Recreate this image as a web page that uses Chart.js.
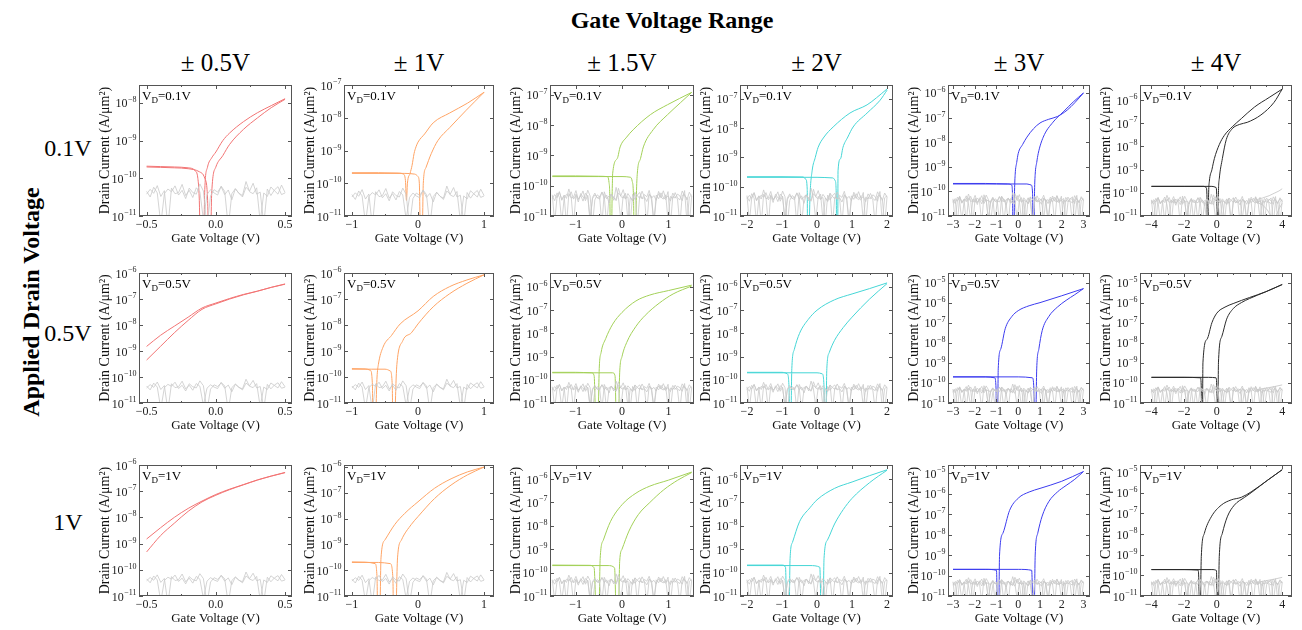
<!DOCTYPE html>
<html><head><meta charset="utf-8">
<script src="https://cdn.jsdelivr.net/npm/chart.js@4.4.1/dist/chart.umd.min.js"></script>
<style>
html,body{margin:0;padding:0;background:#fff;}
body{width:1302px;height:630px;position:relative;overflow:hidden;font-family:'Liberation Serif','Times New Roman',serif;color:#000;}
.lbl{position:absolute;white-space:nowrap;transform:translate(-50%,-50%);line-height:1;}
.panel{position:absolute;}
.vd{position:absolute;font-size:13px;line-height:1;white-space:nowrap;}
.vd sub{font-size:9px;vertical-align:-3px;}
</style></head><body>
<script>
// ---------------- DATA ----------------
const ROW_LABELS = ['0.1V', '0.5V', '1V'];
const COL_LABELS = ['\u00B1 0.5V', '\u00B1 1V', '\u00B1 1.5V', '\u00B1 2V', '\u00B1 3V', '\u00B1 4V'];
const VD_LABELS = ['0.1V', '0.5V', '1V'];
const SWEEP = [0.5, 1, 1.5, 2, 3, 4];
const X_TICKS = [[-0.5, 0, 0.5], [-1, 0, 1], [-1, 0, 1], [-2, -1, 0, 1, 2], [-3, -2, -1, 0, 1, 2, 3], [-4, -2, 0, 2, 4]];
const X_DECIMALS = [1, 0, 0, 0, 0, 0];
const Y_MIN = 1e-11;
const Y_MAX_R1 = [3e-8, 1e-7, 2.1e-7, 3e-7, 2.1e-6, 4.5e-6];
const Y_MAX_R2 = [1e-6, 1e-6, 4e-6, 4e-6, 3e-5, 3e-5];
const Y_MAX_R3 = [1e-6, 1.2e-6, 4e-6, 4e-6, 2.5e-5, 2.2e-5];
const COLORS = ['#f27474', '#ffa465', '#a3d158', '#45d6d6', '#3b3bef', '#2a2a2a'];
const NOISE_COLOR = '#c9c9c9';

// gate leakage (gray) traces, A/um^2
const NOISE_1 = [4.5e-11,3.2e-11,5.8e-11,4.1e-11,0.6e-11,3.9e-11,5.2e-11,4.4e-11,6.3e-11,3.6e-11,4.8e-11,2.9e-11,5.5e-11,4.2e-11,3.8e-11,7.1e-11,4.6e-11,0.5e-11,3.4e-11,5.0e-11,4.3e-11,6.0e-11,3.7e-11,4.9e-11,2.7e-11,5.3e-11,4.0e-11,3.5e-11,8.2e-11,4.4e-11,3.9e-11,5.6e-11,0.7e-11,4.1e-11,3.3e-11,5.9e-11,4.7e-11,3.8e-11,6.6e-11,4.2e-11,3.0e-11,5.1e-11,4.5e-11,0.6e-11,3.6e-11,5.4e-11,4.0e-11,6.8e-11,3.9e-11,4.6e-11,3.1e-11,5.7e-11,4.3e-11,3.7e-11,0.5e-11,4.8e-11,5.2e-11,3.4e-11,6.1e-11,4.4e-11];
const NOISE_2 = [3.8e-11,5.1e-11,4.0e-11,6.4e-11,3.3e-11,4.7e-11,0.5e-11,5.5e-11,3.9e-11,4.2e-11,6.9e-11,3.5e-11,4.8e-11,3.1e-11,5.6e-11,4.4e-11,0.8e-11,3.7e-11,5.0e-11,4.1e-11,3.6e-11,6.2e-11,4.5e-11,0.5e-11,3.9e-11,5.3e-11,4.0e-11,3.2e-11,5.8e-11,4.6e-11,7.4e-11,3.8e-11,4.3e-11,0.6e-11,5.2e-11,3.5e-11,4.9e-11,6.0e-11,3.7e-11,4.1e-11,0.5e-11,5.4e-11,3.9e-11,4.7e-11,3.3e-11,6.5e-11,4.2e-11,3.6e-11,5.0e-11,0.7e-11,4.4e-11,3.8e-11,5.9e-11,4.0e-11,3.4e-11,6.7e-11,4.5e-11,3.9e-11,0.5e-11,4.6e-11];
const NOISE_3 = [5.0e-11,0.6e-11,4.3e-11,6.1e-11,3.5e-11,4.9e-11,3.8e-11,7.8e-11,4.2e-11,0.5e-11,5.3e-11,3.6e-11,4.5e-11,6.7e-11,3.2e-11,4.8e-11,0.6e-11,4.1e-11,5.7e-11,3.9e-11,4.4e-11,0.5e-11,6.3e-11,3.7e-11,4.6e-11,5.2e-11,3.3e-11,8.8e-11,4.0e-11,0.7e-11,4.7e-11,3.6e-11,5.5e-11,4.2e-11,3.1e-11,6.0e-11,0.5e-11,4.5e-11,3.8e-11,5.1e-11,4.3e-11,7.0e-11,3.4e-11,0.6e-11,4.9e-11,3.7e-11,5.8e-11,4.1e-11,3.5e-11,6.4e-11,0.5e-11,4.4e-11,3.9e-11,5.3e-11,4.6e-11,3.2e-11,6.9e-11,0.6e-11,4.2e-11,5.0e-11];
const NOISE_4 = [3.4e-11,4.6e-11,0.5e-11,5.9e-11,3.8e-11,4.4e-11,6.6e-11,3.1e-11,0.7e-11,4.9e-11,3.6e-11,5.4e-11,4.0e-11,0.5e-11,7.3e-11,3.9e-11,4.5e-11,3.3e-11,5.6e-11,0.6e-11,4.2e-11,3.7e-11,6.2e-11,4.8e-11,3.5e-11,0.5e-11,5.1e-11,4.3e-11,3.0e-11,6.8e-11,4.1e-11,0.6e-11,4.7e-11,3.8e-11,5.5e-11,3.4e-11,0.5e-11,6.1e-11,4.4e-11,3.9e-11,5.0e-11,0.7e-11,4.6e-11,3.2e-11,5.8e-11,4.0e-11,0.5e-11,6.5e-11,3.7e-11,4.3e-11,5.2e-11,0.6e-11,3.6e-11,4.9e-11,6.0e-11,0.5e-11,4.1e-11,3.8e-11,5.6e-11,4.2e-11];
// high-voltage tails of the leakage traces in the ±4 V panels [V, A/um^2]
const TAIL_UP_R1 = [[2.4,5e-11],[2.8,6e-11],[3.2,7.5e-11],[3.5,9.5e-11],[3.8,1.2e-10],[4,1.5e-10]];
const TAIL_DN_R1 = [[2.4,4e-11],[2.8,3e-11],[3.1,1.8e-11],[3.3,1e-11],[3.5,0.6e-11],[3.8,2e-11],[4,3.5e-11]];
const TAIL_UP_R23 = [[2.4,4.5e-11],[3,5.5e-11],[3.5,6.5e-11],[4,8e-11]];

// transfer curves [gate voltage (V), drain current (A/um^2)]
const R1C1_A = [[-0.5,2.1e-10],[-0.4,2.05e-10],[-0.3,2e-10],[-0.2,1.9e-10],[-0.15,1.6e-10],[-0.13,1e-10],[-0.12,3e-11],[-0.11,1e-12],[-0.09,1e-12],[-0.08,5e-11],[-0.06,2e-10],[-0.03,3.5e-10],[0,5e-10],[0.05,1e-9],[0.1,1.6e-9],[0.2,3.2e-9],[0.3,5.5e-9],[0.4,8.5e-9],[0.5,1.3e-8]];
const R1C1_B = [[-0.5,2e-10],[-0.3,1.9e-10],[-0.2,1.8e-10],[-0.12,1.5e-10],[-0.08,1e-10],[-0.06,3e-11],[-0.05,1e-12],[-0.04,1e-12],[-0.03,4e-11],[0,2e-10],[0.05,4e-10],[0.1,8e-10],[0.2,2e-9],[0.3,4e-9],[0.4,7.5e-9],[0.5,1.25e-8]];
const R1C2_A = [[-1,2.1e-10],[-0.6,2.1e-10],[-0.3,2.05e-10],[-0.22,1.9e-10],[-0.19,1.2e-10],[-0.175,3e-11],[-0.16,1e-10],[-0.12,2e-10],[-0.09,3.5e-10],[-0.06,8e-10],[-0.03,1.3e-9],[0,1.8e-9],[0.1,3.2e-9],[0.23,7e-9],[0.48,1.4e-8],[0.75,2.8e-8],[1,6e-8]];
const R1C2_B = [[-1,2e-10],[-0.5,2e-10],[-0.2,2e-10],[-0.05,1.9e-10],[0,1.6e-10],[0.02,1e-10],[0.04,1e-12],[0.06,1e-12],[0.08,1e-10],[0.12,3e-10],[0.2,8e-10],[0.3,2e-9],[0.48,5e-9],[0.73,1.7e-8],[1,6e-8]];
const R1C3_A = [[-1.5,2.1e-10],[-1,2.1e-10],[-0.5,2.05e-10],[-0.32,2e-10],[-0.28,1.3e-10],[-0.26,3e-11],[-0.25,1e-12],[-0.23,1e-12],[-0.21,8e-11],[-0.2,2.6e-10],[-0.1,8e-10],[-0.04,1.9e-9],[0.1,4e-9],[0.24,7e-9],[0.61,2.2e-8],[0.98,4.7e-8],[1.5,1.2e-7]];
const R1C3_B = [[-1.5,2e-10],[-0.5,2e-10],[0,2e-10],[0.18,1.9e-10],[0.22,1.4e-10],[0.25,3e-11],[0.26,1e-12],[0.29,1e-12],[0.31,5e-11],[0.33,2.6e-10],[0.4,8e-10],[0.46,1.9e-9],[0.67,7e-9],[0.98,2.2e-8],[1.26,5.5e-8],[1.5,1.2e-7]];
const R1C4_A = [[-2,2.2e-10],[-1,2.2e-10],[-0.4,2.15e-10],[-0.32,1.8e-10],[-0.28,8e-11],[-0.27,1e-12],[-0.24,1e-12],[-0.2,5e-11],[-0.14,3.5e-10],[-0.05,1e-9],[0.03,2.2e-9],[0.2,5e-9],[0.46,1.1e-8],[0.94,3.3e-8],[1.43,6.3e-8],[1.7,1.1e-7],[2,2.2e-7]];
const R1C4_B = [[-2,2.1e-10],[-1,2.1e-10],[0,2.1e-10],[0.45,2e-10],[0.52,1.6e-10],[0.55,5e-11],[0.56,1e-12],[0.59,1e-12],[0.6,3.5e-10],[0.67,9e-10],[0.74,2.2e-9],[0.88,5e-9],[1.03,1.1e-8],[1.43,3.3e-8],[1.8,9e-8],[2,2e-7]];
const R1C5_A = [[-3,2.1e-10],[-1.5,2.1e-10],[-0.5,2e-10],[-0.3,1.8e-10],[-0.26,5e-11],[-0.24,1e-12],[-0.2,1e-12],[-0.17,1e-10],[-0.14,5e-10],[-0.07,1.5e-9],[0,3.5e-9],[0.2,8e-9],[0.4,1.6e-8],[0.7,3.5e-8],[1,6e-8],[1.4,8.5e-8],[1.8,1.1e-7],[2.25,2e-7],[2.6,4e-7],[3,1e-6]];
const R1C5_B = [[-3,2e-10],[-1,2e-10],[0.4,2e-10],[0.6,1.8e-10],[0.66,8e-11],[0.68,1e-12],[0.72,1e-12],[0.75,1e-10],[0.78,5e-10],[0.85,1.5e-9],[0.92,3.5e-9],[1.15,1.6e-8],[1.6,6.5e-8],[2.07,1.7e-7],[2.53,4.3e-7],[3,1e-6]];
const R1C6_A = [[-4,1.9e-10],[-2,1.9e-10],[-0.8,1.9e-10],[-0.65,1.7e-10],[-0.6,6e-11],[-0.58,1e-12],[-0.54,1e-12],[-0.5,1e-10],[-0.46,3e-10],[-0.3,1e-9],[-0.15,3e-9],[0.15,1.2e-8],[0.46,3e-8],[0.94,7e-8],[1.5,1.6e-7],[2.3,5e-7],[3.2,1.3e-6],[4,3e-6]];
const R1C6_B = [[-4,1.9e-10],[-2,1.9e-10],[-0.3,1.9e-10],[-0.05,1.7e-10],[0,6e-11],[0.02,1e-12],[0.07,1e-12],[0.1,1e-10],[0.15,4e-10],[0.34,3e-9],[0.58,2e-8],[0.94,5.8e-8],[1.4,9e-8],[1.86,1.1e-7],[2.7,2.3e-7],[3.5,8e-7],[4,3e-6]];

const R2C1_A = [[-0.5,1.5e-9],[-0.4,4e-9],[-0.3,9e-9],[-0.2,2e-8],[-0.1,4.5e-8],[0,7e-8],[0.1,1.05e-7],[0.2,1.5e-7],[0.3,2e-7],[0.4,2.8e-7],[0.5,3.8e-7]];
const R2C1_B = [[-0.5,4.5e-10],[-0.4,1.5e-9],[-0.3,5e-9],[-0.2,1.5e-8],[-0.1,4e-8],[0,6.5e-8],[0.1,1e-7],[0.2,1.45e-7],[0.3,2e-7],[0.4,2.8e-7],[0.5,3.7e-7]];
const R2C2_A = [[-1,2.1e-10],[-0.8,2.05e-10],[-0.72,1.8e-10],[-0.69,5e-11],[-0.68,1e-12],[-0.65,1e-12],[-0.62,1e-10],[-0.6,3e-10],[-0.53,1.4e-9],[-0.4,4e-9],[-0.27,1.1e-8],[0,3.5e-8],[0.23,1.25e-7],[0.48,3e-7],[0.74,5.4e-7],[1,8.5e-7]];
const R2C2_B = [[-1,2e-10],[-0.7,2e-10],[-0.5,2e-10],[-0.42,1.7e-10],[-0.39,5e-11],[-0.38,1e-12],[-0.36,1e-12],[-0.33,1e-10],[-0.32,3e-10],[-0.23,2.5e-9],[-0.1,5e-9],[0,1.1e-8],[0.23,5e-8],[0.48,1.6e-7],[0.74,4e-7],[1,8.5e-7]];
const R2C3_A = [[-1.5,2.1e-10],[-1,2.1e-10],[-0.65,2e-10],[-0.6,1.5e-10],[-0.56,1e-12],[-0.52,1e-12],[-0.49,3e-10],[-0.45,1.5e-9],[-0.35,6e-9],[-0.2,2.5e-8],[0,8e-8],[0.3,2.5e-7],[0.6,4.5e-7],[1,7e-7],[1.5,1.2e-6]];
const R2C3_B = [[-1.5,2e-10],[-0.5,2e-10],[-0.2,2e-10],[-0.15,1.5e-10],[-0.12,1e-12],[-0.08,1e-12],[-0.05,2e-10],[0,1e-9],[0.1,4e-9],[0.3,2e-8],[0.5,6e-8],[0.8,2e-7],[1.1,5e-7],[1.5,1.1e-6]];
const R2C4_A = [[-2,2.1e-10],[-1,2.1e-10],[-0.85,1.8e-10],[-0.8,5e-11],[-0.78,1e-12],[-0.75,1e-12],[-0.72,3e-10],[-0.65,2e-9],[-0.5,1e-8],[-0.25,4e-8],[0,1e-7],[0.5,2.8e-7],[1,5e-7],[1.5,8.5e-7],[2,1.5e-6]];
const R2C4_B = [[-2,2e-10],[0,2e-10],[0.15,1.8e-10],[0.2,5e-11],[0.22,1e-12],[0.25,1e-12],[0.28,3e-10],[0.35,1.5e-9],[0.5,5e-9],[0.75,1.8e-8],[1,5e-8],[1.5,3e-7],[2,1.4e-6]];
const R2C5_A = [[-3,2e-10],[-1.5,2e-10],[-1.08,1.8e-10],[-1.02,5e-11],[-1,1e-12],[-0.95,1e-12],[-0.92,5e-10],[-0.8,5e-9],[-0.6,5e-8],[-0.3,2e-7],[0,4e-7],[0.5,7e-7],[1,1e-6],[2,2.2e-6],[3,5e-6]];
const R2C5_B = [[-3,2e-10],[0,2e-10],[0.65,1.8e-10],[0.72,5e-11],[0.75,1e-12],[0.8,1e-12],[0.85,5e-10],[0.95,5e-9],[1.1,4e-8],[1.4,2e-7],[1.8,6e-7],[2.2,1.3e-6],[2.6,2.5e-6],[3,5e-6]];
const R2C6_A = [[-4,1.9e-10],[-2,1.9e-10],[-1,1.8e-10],[-0.95,5e-11],[-0.93,1e-12],[-0.88,1e-12],[-0.85,1e-9],[-0.6,1.5e-8],[-0.3,1e-7],[0,3e-7],[0.5,6e-7],[1,9e-7],[2,1.8e-6],[3,3.5e-6],[4,8e-6]];
const R2C6_B = [[-4,1.9e-10],[-0.5,1.9e-10],[-0.05,1.8e-10],[0,5e-11],[0.02,1e-12],[0.06,1e-12],[0.1,1e-9],[0.3,2e-8],[0.6,1.5e-7],[1,5e-7],[1.5,1e-6],[2,1.6e-6],[3,3.5e-6],[4,8e-6]];

const R3C1_A = [[-0.5,1.5e-9],[-0.4,4e-9],[-0.3,1e-8],[-0.2,2.2e-8],[-0.1,4.2e-8],[0,7.5e-8],[0.1,1.2e-7],[0.2,1.8e-7],[0.3,2.7e-7],[0.4,3.8e-7],[0.5,5.2e-7]];
const R3C1_B = [[-0.5,4.8e-10],[-0.4,2e-9],[-0.3,6e-9],[-0.2,1.7e-8],[-0.1,3.9e-8],[0,7e-8],[0.1,1.15e-7],[0.2,1.75e-7],[0.3,2.65e-7],[0.4,3.75e-7],[0.5,5.1e-7]];
const R3C2_A = [[-1,2.1e-10],[-0.8,2.05e-10],[-0.65,1.8e-10],[-0.62,5e-11],[-0.61,1e-12],[-0.58,1e-12],[-0.56,3e-10],[-0.5,1.5e-9],[-0.35,6e-9],[-0.2,1.6e-8],[0,4.5e-8],[0.25,1.5e-7],[0.5,3.5e-7],[0.75,6.5e-7],[1,1e-6]];
const R3C2_B = [[-1,2e-10],[-0.6,2e-10],[-0.42,1.8e-10],[-0.38,5e-11],[-0.37,1e-12],[-0.34,1e-12],[-0.31,3e-10],[-0.25,1.5e-9],[-0.1,6e-9],[0,1.2e-8],[0.25,6e-8],[0.5,2e-7],[0.75,5e-7],[1,1e-6]];
const R3C3_A = [[-1.5,2.1e-10],[-0.7,2.05e-10],[-0.6,1.6e-10],[-0.55,1e-12],[-0.5,1e-12],[-0.47,4e-10],[-0.4,2.5e-9],[-0.25,1.5e-8],[0,8e-8],[0.3,2.5e-7],[0.6,5e-7],[1,9e-7],[1.5,2e-6]];
const R3C3_B = [[-1.5,2e-10],[-0.3,2e-10],[-0.16,1.6e-10],[-0.12,1e-12],[-0.08,1e-12],[-0.05,3e-10],[0,1e-9],[0.15,6e-9],[0.35,3e-8],[0.6,1e-7],[0.9,3.5e-7],[1.2,9e-7],[1.5,1.9e-6]];
const R3C4_A = [[-2,2.1e-10],[-1,2.1e-10],[-0.9,1.7e-10],[-0.86,1e-12],[-0.8,1e-12],[-0.77,4e-10],[-0.7,2e-9],[-0.5,1.5e-8],[-0.2,6e-8],[0,1.3e-7],[0.5,4e-7],[1,7.5e-7],[1.5,1.4e-6],[2,2.5e-6]];
const R3C4_B = [[-2,2e-10],[-0.2,2e-10],[0.08,1.7e-10],[0.12,1e-12],[0.17,1e-12],[0.2,4e-10],[0.3,2.5e-9],[0.5,1.2e-8],[0.75,5e-8],[1,1.5e-7],[1.5,7e-7],[2,2.4e-6]];
const R3C5_A = [[-3,2e-10],[-1.5,2e-10],[-1,1.8e-10],[-0.95,1e-12],[-0.9,1e-12],[-0.86,1e-9],[-0.7,1.2e-8],[-0.4,1.5e-7],[0,6e-7],[0.5,1.2e-6],[1,1.8e-6],[2,4e-6],[3,1.2e-5]];
const R3C5_B = [[-3,2e-10],[0,2e-10],[0.62,1.8e-10],[0.68,1e-12],[0.73,1e-12],[0.78,1e-9],[0.9,1.2e-8],[1.1,8e-8],[1.4,4e-7],[1.8,1.2e-6],[2.2,2.5e-6],[2.6,5e-6],[3,1.2e-5]];
const R3C6_A = [[-4,1.9e-10],[-2,1.9e-10],[-1.15,1.8e-10],[-1.1,5e-11],[-1.08,1e-12],[-1.02,1e-12],[-0.95,8e-10],[-0.76,1.1e-8],[-0.34,6.8e-8],[0.27,2.5e-7],[0.88,4.5e-7],[1.5,6e-7],[2.1,1.1e-6],[3.1,4e-6],[4,1.3e-5]];
const R3C6_B = [[-4,1.9e-10],[-0.3,1.9e-10],[-0.02,1.7e-10],[0.02,1e-12],[0.08,1e-12],[0.15,8e-10],[0.34,1.1e-8],[0.64,6.8e-8],[1.07,2.5e-7],[1.7,6e-7],[2.1,1e-6],[3.1,4e-6],[4,1.3e-5]];

// ---------------- LAYOUT ----------------
const PLOT_L = [139, 344, 550, 740, 948, 1140];
const PLOT_R = [292, 494, 694, 893, 1090, 1292];
const PLOT_T = [85, 273, 465];
const PLOT_B = [216, 403, 596];
const X_RANGE = [[-0.555, 0.55], [-1.12, 1.15], [-1.55, 1.55], [-2.2, 2.17], [-3.23, 3.3], [-4.7, 4.6]];
const NOISE_COUNT = [40, 40, 60, 60, 60, 60];
const NOISE_SETS = [[NOISE_1, NOISE_2], [NOISE_1, NOISE_2], [NOISE_1, NOISE_2, NOISE_3], [NOISE_1, NOISE_2, NOISE_3], [NOISE_1, NOISE_2, NOISE_3, NOISE_4], [NOISE_1, NOISE_2, NOISE_3, NOISE_4]];
const TAILS = [[TAIL_UP_R1, TAIL_DN_R1], [TAIL_UP_R23], [TAIL_UP_R23]]; // drawn in the ±4 V column only

const CURVES = [
  [[R1C1_A, R1C1_B], [R1C2_A, R1C2_B], [R1C3_A, R1C3_B], [R1C4_A, R1C4_B], [R1C5_A, R1C5_B], [R1C6_A, R1C6_B]],
  [[R2C1_A, R2C1_B], [R2C2_A, R2C2_B], [R2C3_A, R2C3_B], [R2C4_A, R2C4_B], [R2C5_A, R2C5_B], [R2C6_A, R2C6_B]],
  [[R3C1_A, R3C1_B], [R3C2_A, R3C2_B], [R3C3_A, R3C3_B], [R3C4_A, R3C4_B], [R3C5_A, R3C5_B], [R3C6_A, R3C6_B]]
];
const Y_MAX = [Y_MAX_R1, Y_MAX_R2, Y_MAX_R3];

const FONT = "'Liberation Serif','Times New Roman',serif";
function fmtX(v, d) {
  const s = Math.abs(v).toFixed(d);
  return (v < 0 ? '\u2212' : '') + s;
}

function addLabel(text, x, y, style) {
  const d = document.createElement('div');
  d.className = 'lbl';
  d.style.left = x + 'px'; d.style.top = y + 'px';
  Object.assign(d.style, style || {});
  d.innerHTML = text;
  document.body.appendChild(d);
  return d;
}

// headers
addLabel('Gate Voltage Range', 672, 20, {fontSize: '24px', fontWeight: 'bold'});
COL_LABELS.forEach((t, c) => addLabel(t, (PLOT_L[c] + PLOT_R[c]) / 2, 62, {fontSize: '25px'}));
ROW_LABELS.forEach((t, r) => addLabel(t, 68, [148, 333, 522][r], {fontSize: '24px'}));
addLabel('Applied Drain Voltage', 31, 302, {fontSize: '24px', fontWeight: 'bold', transform: 'translate(-50%,-50%) rotate(-90deg)'});

// frame, inward ticks and decade labels "10^n"
const framePlugin = {
  id: 'frame',
  afterDatasetsDraw(chart) {
    const {ctx, chartArea: a, scales: {x, y}} = chart;
    ctx.save();
    ctx.strokeStyle = '#555';
    ctx.lineWidth = 1;
    ctx.strokeRect(a.left + 0.5, a.top + 0.5, a.width - 1, a.height - 1);
    ctx.beginPath();
    const xt = x.ticks.map(t => t.value);
    xt.forEach((v, i) => {
      const px = Math.round(x.getPixelForValue(v)) + 0.5;
      ctx.moveTo(px, a.bottom); ctx.lineTo(px, a.bottom - 4);
      ctx.moveTo(px, a.top); ctx.lineTo(px, a.top + 4);
      if (i < xt.length - 1) {
        const pm = Math.round(x.getPixelForValue((v + xt[i + 1]) / 2)) + 0.5;
        ctx.moveTo(pm, a.bottom); ctx.lineTo(pm, a.bottom - 2);
        ctx.moveTo(pm, a.top); ctx.lineTo(pm, a.top + 2);
      }
    });
    y.ticks.forEach(t => {
      const py = Math.round(y.getPixelForValue(t.value)) + 0.5;
      if (py < a.top || py > a.bottom + 1) return;
      ctx.moveTo(a.left, py); ctx.lineTo(a.left + 4, py);
      ctx.moveTo(a.right, py); ctx.lineTo(a.right - 4, py);
    });
    ctx.stroke();
    ctx.fillStyle = '#222';
    ctx.textBaseline = 'alphabetic';
    ctx.textAlign = 'left';
    y.ticks.forEach(t => {
      const py = y.getPixelForValue(t.value);
      const e = Math.round(Math.log10(t.value));
      const es = (e < 0 ? '\u2212' : '') + Math.abs(e);
      ctx.font = '8px ' + FONT;
      const we = ctx.measureText(es).width;
      ctx.font = '12px ' + FONT;
      const wb = ctx.measureText('10').width;
      const x0 = a.left - 3 - we - wb;
      ctx.fillText('10', x0, py + 4.5);
      ctx.font = '8px ' + FONT;
      ctx.fillText(es, x0 + wb + 0.5, py - 1);
    });
    ctx.restore();
  }
};

const YW = 42, XH = 30, PT = 9, PR = 8;

function makePanel(r, c) {
  const L = PLOT_L[c], R = PLOT_R[c], T = PLOT_T[r], B = PLOT_B[r];
  const div = document.createElement('div');
  div.className = 'panel';
  div.style.left = (L - YW) + 'px';
  div.style.top = (T - PT) + 'px';
  div.style.width = (R - L + YW + PR) + 'px';
  div.style.height = (B - T + PT + XH) + 'px';
  const cv = document.createElement('canvas');
  div.appendChild(cv);
  document.body.appendChild(div);

  const datasets = [];
  const vg = SWEEP[c], n = NOISE_COUNT[c];
  NOISE_SETS[c].forEach(arr => {
    const pts = arr.slice(0, n).map((v, i) => ({x: -vg + 2 * vg * i / (n - 1), y: v}));
    datasets.push({data: pts, borderColor: NOISE_COLOR, borderWidth: 0.8, pointRadius: 0, tension: 0});
  });
  if (c === 5) {
    TAILS[r].forEach(tail => {
      datasets.push({data: tail.map(p => ({x: p[0], y: p[1]})), borderColor: NOISE_COLOR, borderWidth: 0.9, pointRadius: 0, tension: 0});
    });
  }
  CURVES[r][c].forEach(curve => {
    datasets.push({
      data: curve.map(p => ({x: p[0], y: p[1]})),
      borderColor: COLORS[c], borderWidth: 1, pointRadius: 0,
      cubicInterpolationMode: 'monotone'
    });
  });

  const ymax = Y_MAX[r][c];
  new Chart(cv, {
    type: 'line',
    data: {datasets},
    plugins: [framePlugin],
    options: {
      responsive: true, maintainAspectRatio: false, animation: false, events: [],
      layout: {padding: {top: PT, right: PR, left: 0, bottom: 0}},
      plugins: {legend: {display: false}, tooltip: {enabled: false}},
      scales: {
        x: {
          type: 'linear', min: X_RANGE[c][0], max: X_RANGE[c][1],
          grid: {display: false, drawTicks: false}, border: {display: false},
          afterBuildTicks: s => { s.ticks = X_TICKS[c].map(v => ({value: v})); },
          afterFit: s => { s.height = XH; },
          ticks: {autoSkip: false, maxRotation: 0, padding: 2, color: '#222',
            font: {family: FONT, size: 12}, callback: v => fmtX(v, X_DECIMALS[c])},
          title: {display: true, text: 'Gate Voltage (V)', color: '#111',
            font: {family: FONT, size: 13}, padding: {top: 0, bottom: 0}}
        },
        y: {
          type: 'logarithmic', min: Y_MIN, max: ymax,
          grid: {display: false, drawTicks: false}, border: {display: false},
          afterBuildTicks: s => {
            const t = [];
            for (let e = -11; Math.pow(10, e) <= ymax * 1.0001; e++) t.push({value: Math.pow(10, e)});
            s.ticks = t;
          },
          afterFit: s => { s.width = YW; },
          ticks: {display: false},
          title: {display: true, text: 'Drain Current (A/\u03BCm\u00B2)', color: '#111',
            font: {family: FONT, size: 14}, padding: {top: 0, bottom: 0}}
        }
      }
    }
  });

  const vd = document.createElement('div');
  vd.className = 'vd';
  vd.style.left = (L + 3) + 'px';
  vd.style.top = (T + 4) + 'px';
  vd.innerHTML = 'V<sub>D</sub>=' + VD_LABELS[r];
  document.body.appendChild(vd);
}

for (let r = 0; r < 3; r++) for (let c = 0; c < 6; c++) makePanel(r, c);
</script>
</body></html>
